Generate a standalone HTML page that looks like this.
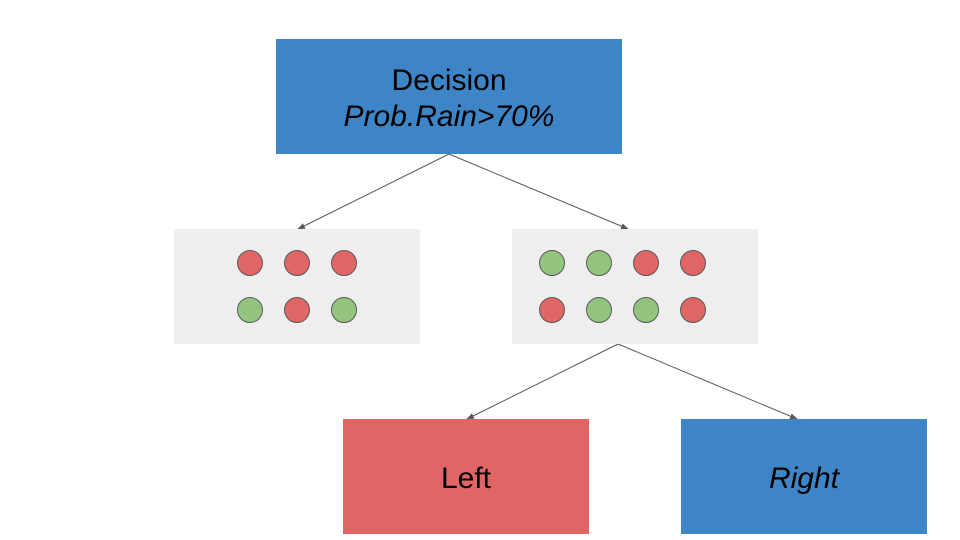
<!DOCTYPE html>
<html><head><meta charset="utf-8"><style>
body{margin:0;background:#fff;}
svg{display:block;font-family:"Liberation Sans",sans-serif;}
</style></head><body>
<svg width="960" height="540" viewBox="0 0 960 540">
<defs><marker id="ah" markerWidth="8" markerHeight="8" refX="7" refY="4" orient="auto" markerUnits="userSpaceOnUse"><path d="M0,1 L8,4 L0,7 Z" fill="#595959"/></marker></defs>
<rect x="276" y="39" width="346" height="115" fill="#3d85c6"/>
<text x="449" y="90" font-size="30" text-anchor="middle" fill="#000">Decision</text>
<text x="449" y="126" font-size="30" font-style="italic" text-anchor="middle" fill="#000">Prob.Rain&gt;70%</text>
<g stroke="#595959" stroke-width="1" marker-end="url(#ah)">
<line x1="449" y1="154" x2="298" y2="229"/>
<line x1="449" y1="154" x2="628" y2="229"/>
<line x1="618" y1="344" x2="467" y2="419"/>
<line x1="618" y1="344" x2="797" y2="419"/>
</g>
<rect x="174" y="229" width="246" height="115" fill="#eeeeee"/>
<rect x="512" y="229" width="246" height="115" fill="#eeeeee"/>
<g stroke="#595959" stroke-width="1">
<circle cx="250" cy="263" r="12.5" fill="#e06666"/>
<circle cx="297" cy="263" r="12.5" fill="#e06666"/>
<circle cx="344" cy="263" r="12.5" fill="#e06666"/>
<circle cx="250" cy="310" r="12.5" fill="#93c47d"/>
<circle cx="297" cy="310" r="12.5" fill="#e06666"/>
<circle cx="344" cy="310" r="12.5" fill="#93c47d"/>
<circle cx="552" cy="263" r="12.5" fill="#93c47d"/>
<circle cx="599" cy="263" r="12.5" fill="#93c47d"/>
<circle cx="646" cy="263" r="12.5" fill="#e06666"/>
<circle cx="693" cy="263" r="12.5" fill="#e06666"/>
<circle cx="552" cy="310" r="12.5" fill="#e06666"/>
<circle cx="599" cy="310" r="12.5" fill="#93c47d"/>
<circle cx="646" cy="310" r="12.5" fill="#93c47d"/>
<circle cx="693" cy="310" r="12.5" fill="#e06666"/>
</g>
<rect x="343" y="419" width="246" height="115" fill="#e06666"/>
<text x="466" y="488" font-size="30" text-anchor="middle" fill="#000">Left</text>
<rect x="681" y="419" width="246" height="115" fill="#3d85c6"/>
<text x="804" y="488" font-size="30" font-style="italic" text-anchor="middle" fill="#000">Right</text>
</svg>
</body></html>
